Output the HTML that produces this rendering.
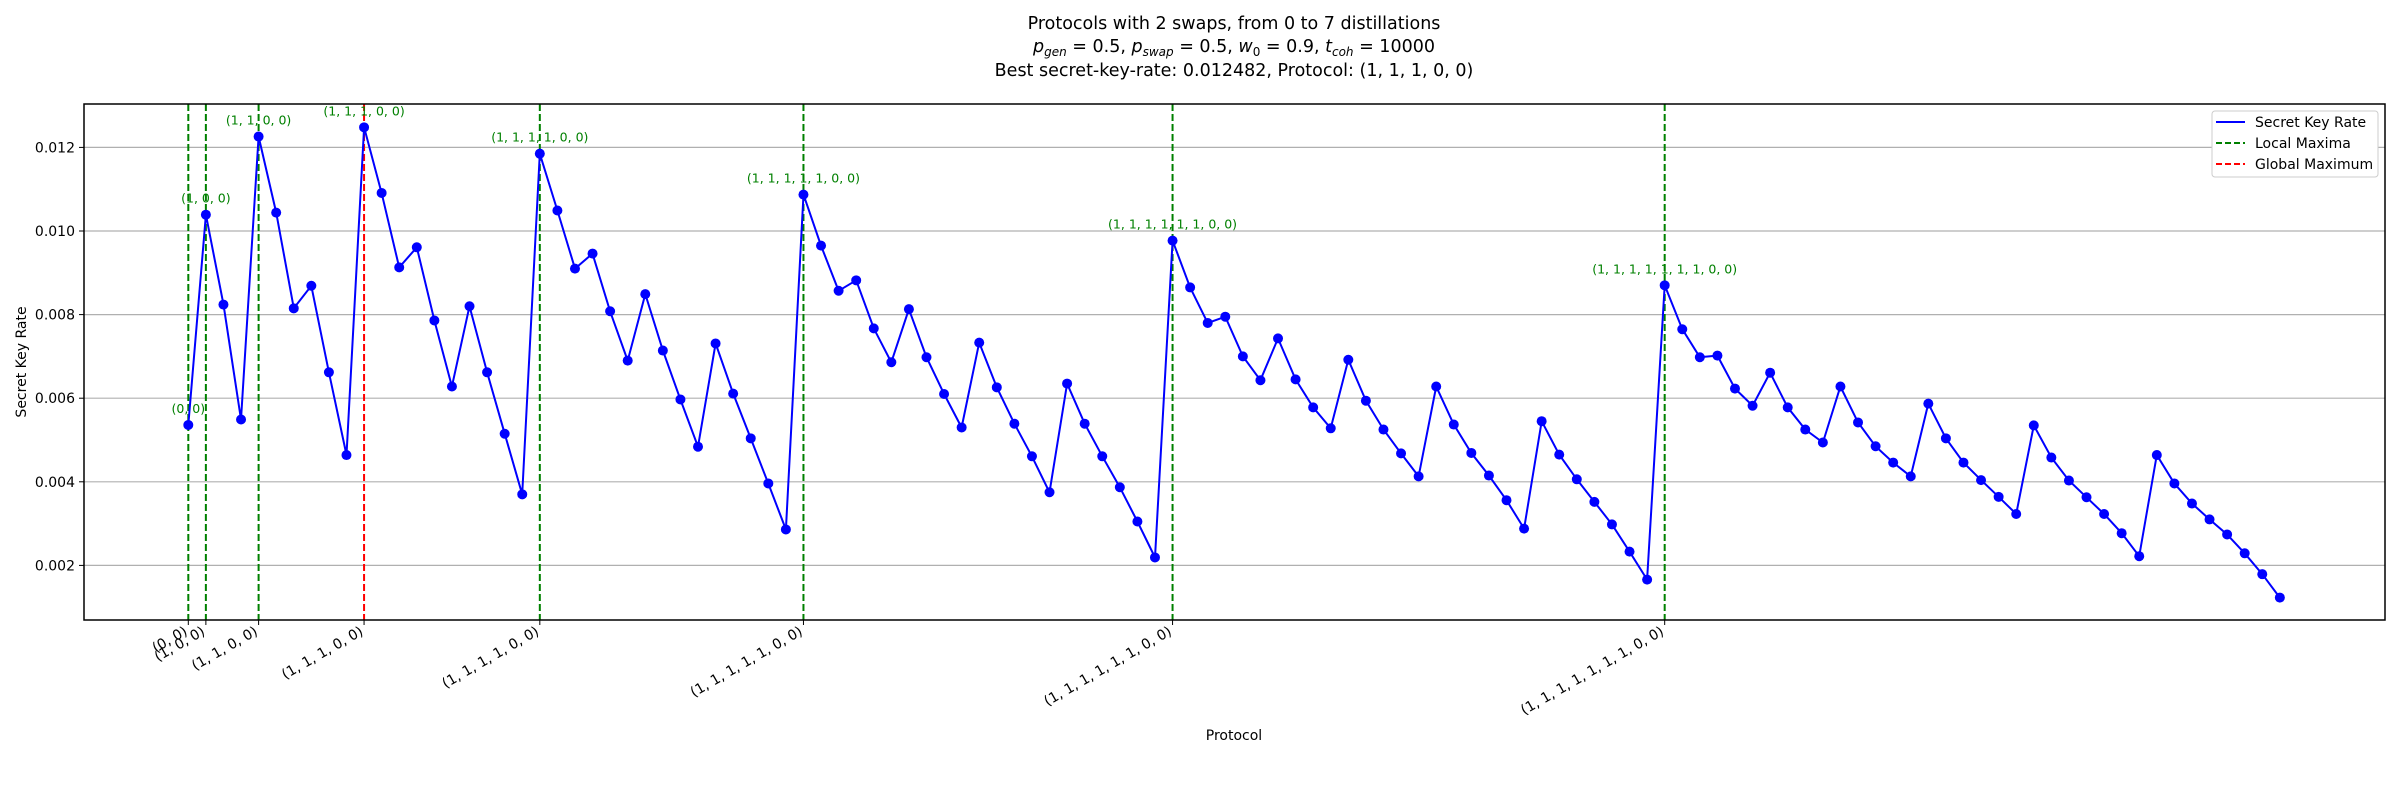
<!DOCTYPE html>
<html><head><meta charset="utf-8"><style>
html,body{margin:0;padding:0;background:#fff;}
svg{display:block;font-family:"DejaVu Sans","Liberation Sans",sans-serif;}
</style></head><body>
<svg id="chart" width="2400" height="800" viewBox="0 0 2400 800">
<rect width="2400" height="800" fill="#fff"/>
<g id="title" text-anchor="middle" font-size="17.5" fill="#000">
<text x="1234" y="29">Protocols with 2 swaps, from 0 to 7 distillations</text>
<text x="1234" y="52"><tspan font-style="italic">p</tspan><tspan font-style="italic" font-size="12" dy="4">gen</tspan><tspan dy="-4"> = 0.5, </tspan><tspan font-style="italic">p</tspan><tspan font-style="italic" font-size="12" dy="4">swap</tspan><tspan dy="-4"> = 0.5, </tspan><tspan font-style="italic">w</tspan><tspan font-size="12" dy="4">0</tspan><tspan dy="-4"> = 0.9, </tspan><tspan font-style="italic">t</tspan><tspan font-style="italic" font-size="12" dy="4">coh</tspan><tspan dy="-4"> = 10000</tspan></text>
<text x="1234" y="76">Best secret-key-rate: 0.012482, Protocol: (1, 1, 1, 0, 0)</text>
</g>
<g id="grid"></g>
<g id="vlines"></g>
<g id="series"></g>
<g id="annots"></g>
<g id="axes"></g>
<rect x="84" y="104" width="2301" height="516" fill="none" stroke="#000" stroke-width="1.5"/>
<text x="1234" y="740" text-anchor="middle" font-size="14">Protocol</text>
<text transform="translate(26,362) rotate(-90)" text-anchor="middle" font-size="14">Secret Key Rate</text>
<g>
<rect x="2212" y="111" width="166" height="66" rx="3" fill="#fff" stroke="#ccc" stroke-width="1"/>
<g><line x1="2216" y1="122" x2="2245" y2="122" stroke="#0000ff" stroke-width="2"/><text x="2255" y="127" font-size="14">Secret Key Rate</text></g>
<g><line x1="2216" y1="143" x2="2245" y2="143" stroke="#008000" stroke-width="2" stroke-dasharray="6,3"/><text x="2255" y="148" font-size="14">Local Maxima</text></g>
<g><line x1="2216" y1="164" x2="2245" y2="164" stroke="#ff0000" stroke-width="2" stroke-dasharray="6,3"/><text x="2255" y="169" font-size="14">Global Maximum</text></g>
</g>
</svg>
<script>
const values = [0.00536,0.01039,0.00824,0.00549,0.01226,0.01044,0.00815,0.00869,0.00662,0.00464,
0.01248,0.01091,0.00913,0.00961,0.00786,0.00628,0.00820,0.00662,0.00515,0.00370,
0.01185,0.01049,0.00910,0.00946,0.00808,0.00690,0.00849,0.00714,0.00597,0.00484,0.00731,0.00611,0.00504,0.00396,0.00286,
0.01087,0.00965,0.00857,0.00882,0.00767,0.00686,0.00813,0.00698,0.00610,0.00530,0.00733,0.00626,0.00539,0.00461,0.00375,0.00635,0.00539,0.00461,0.00387,0.00305,0.00219,
0.00977,0.00865,0.00780,0.00795,0.00700,0.00643,0.00743,0.00645,0.00578,0.00528,0.00692,0.00594,0.00525,0.00468,0.00413,0.00628,0.00537,0.00469,0.00415,0.00356,0.00288,0.00545,0.00465,0.00406,0.00352,0.00298,0.00233,0.00166,
0.00870,0.00765,0.00698,0.00702,0.00623,0.00582,0.00661,0.00578,0.00525,0.00494,0.00628,0.00542,0.00485,0.00446,0.00413,0.00587,0.00504,0.00446,0.00404,0.00364,0.00323,0.00535,0.00458,0.00403,0.00363,0.00323,0.00277,0.00222,0.00464,0.00396,0.00348,0.00310,0.00274,0.00229,0.00179,0.00123];
const peakIndices = [0,1,4,10,20,35,56,84];
const peakLabels = ["(0, 0)","(1, 0, 0)","(1, 1, 0, 0)","(1, 1, 1, 0, 0)","(1, 1, 1, 1, 0, 0)","(1, 1, 1, 1, 1, 0, 0)","(1, 1, 1, 1, 1, 1, 0, 0)","(1, 1, 1, 1, 1, 1, 1, 0, 0)"];
const globalIndex = 10;
const yTicks = [0.002,0.004,0.006,0.008,0.010,0.012];
const yTickLabels = ["0.002","0.004","0.006","0.008","0.010","0.012"];

const NS="http://www.w3.org/2000/svg";
const X0=188.3, DX=17.576;
function xScale(i){return X0+i*DX;}
const Y0=565.4, YPER=41.8;
function yScale(v){return Y0-(v-0.002)/0.001*YPER;}
function mk(tag,attrs,parent){const e=document.createElementNS(NS,tag);for(const k in attrs)e.setAttribute(k,attrs[k]);parent.appendChild(e);return e;}

const grid=document.getElementById('grid'), axes=document.getElementById('axes');
yTicks.forEach((t,i)=>{
  const y=yScale(t);
  const gl=mk('line',{x1:84,x2:2385,y1:y,y2:y,stroke:'#b0b0b0','stroke-width':1.2},grid);
  
  
  const tk=mk('line',{x1:79,x2:84,y1:y,y2:y,stroke:'#000','stroke-width':1},axes);
  
  
  const tx=mk('text',{x:75,y:y+5,'text-anchor':'end','font-size':14},axes);
  tx.textContent=yTickLabels[i];
  
  
});

const vl=document.getElementById('vlines'), an=document.getElementById('annots');
peakIndices.forEach((idx,i)=>{
  const x=xScale(idx);
  const col = idx===globalIndex ? '#ff0000' : '#008000';
  const l=mk('line',{x1:x,x2:x,y1:104,y2:620,stroke:col,'stroke-width':2,'stroke-dasharray':'7,3'},vl);
  
  
  const a=mk('text',{x:x,y:yScale(values[idx])-12,'text-anchor':'middle','font-size':12.5,fill:'#008000'},an);
  a.textContent=peakLabels[i];
  
  
  const tk=mk('line',{x1:x,x2:x,y1:620,y2:625,stroke:'#000','stroke-width':1},axes);
  
  
  const tl=mk('text',{x:x,y:634,'text-anchor':'end','font-size':14,transform:`rotate(-30 ${x} 634)`},axes);
  tl.textContent=peakLabels[i];
  
  
});

const ser=document.getElementById('series');
const pts=values.map((v,i)=>xScale(i).toFixed(1)+','+yScale(v).toFixed(1)).join(' ');
const pl=mk('polyline',{points:pts,fill:'none',stroke:'#0000ff','stroke-width':2},ser);


values.forEach((v,i)=>{
  const c=mk('circle',{cx:xScale(i),cy:yScale(v),r:5,fill:'#0000ff'},ser);
  
  
});
</script>
</body></html>
